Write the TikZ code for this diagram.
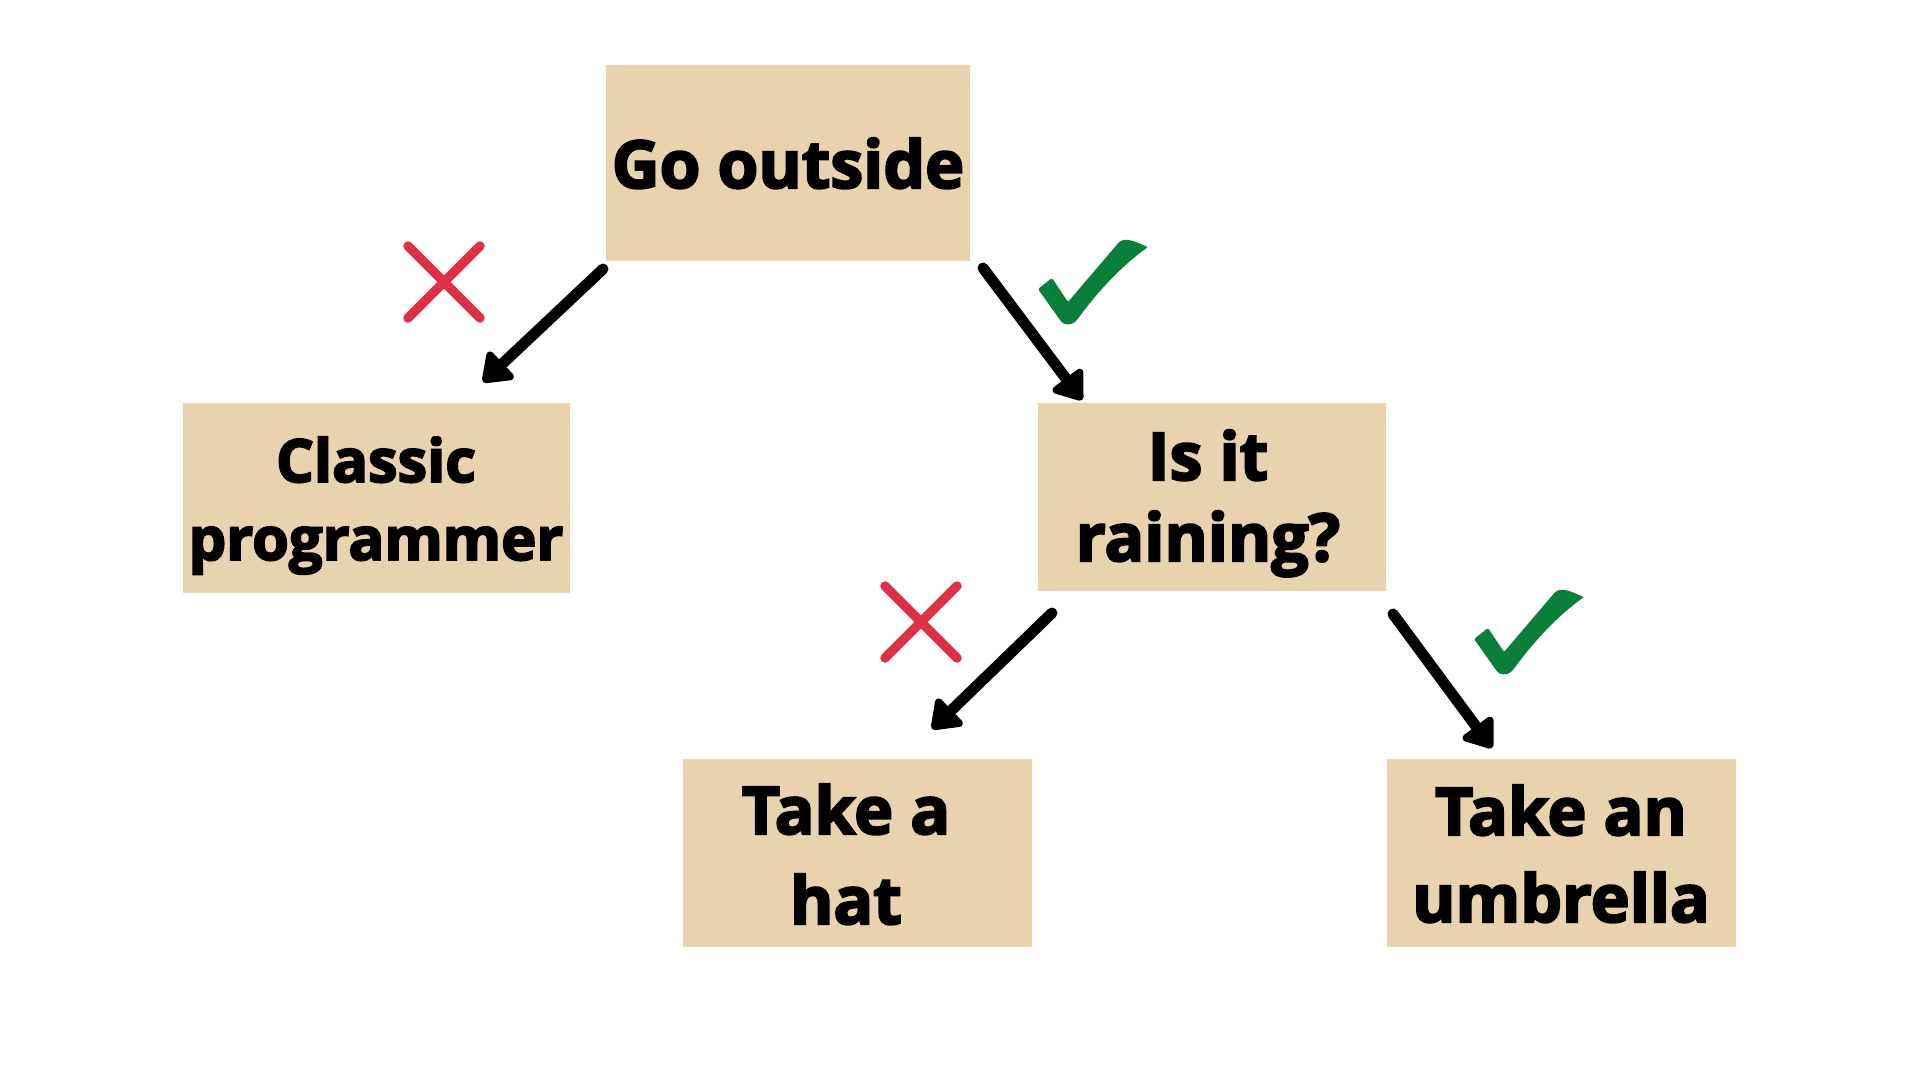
\documentclass[tikz,border=0pt]{standalone}
\usepackage{fontspec}
\usetikzlibrary{arrows.meta,calc}
\IfFontExistsTF{Open Sans ExtraBold}
  {\newfontfamily\boxfont{Open Sans ExtraBold}\newcommand\boxweight{}}
  {\newfontfamily\boxfont{Open Sans}[BoldFeatures={FakeBold=3.2}]\newcommand\boxweight{\bfseries}}
\definecolor{boxtan}{HTML}{E9D3AE}
\definecolor{xred}{HTML}{DE3047}
\definecolor{ckgreen}{HTML}{0A7F3A}
\tikzset{
  box/.style={fill=boxtan, draw=none, inner sep=0pt, outer sep=0pt},
  lbl/.style={anchor=base, inner sep=0pt, font=\boxfont\boxweight\fontsize{66}{80}\selectfont, text=black},
  lblsmall/.style={lbl, font=\boxfont\boxweight\fontsize{59.5}{72}\selectfont},
  arr/.style={line width=11pt, line cap=round, -{Triangle[length=30pt, width=42pt, round]}},
  crossmk/.pic={
    \draw[xred, line width=9.5pt, line cap=round] (-36,-36) -- (36,36) (-36,36) -- (36,-36);
  },
  checkmk/.pic={
    \fill[ckgreen, rounded corners=2pt] (0,0) -- (14,-11) -- (30,13) -- (82,-48)
      .. controls (92,-51) and (102,-45) .. (110,-42)
      .. controls (82,-22) and (57,6) .. (39,31)
      .. controls (33,37) and (26,36) .. (22,31) -- cycle;
  }
}
\begin{document}
\begin{tikzpicture}[x=1pt, y=-1pt]
\useasboundingbox (0,0) rectangle (1920,1080);
% boxes
\node[box, minimum width=364pt, minimum height=196pt] (go) at (788,163) {};
\node[box, minimum width=387pt, minimum height=190pt] (classic) at (376.5,498) {};
\node[box, minimum width=348pt, minimum height=188pt] (rain) at (1212,497) {};
\node[box, minimum width=349pt, minimum height=188pt] (hat) at (857.5,853) {};
\node[box, minimum width=349pt, minimum height=188pt] (umb) at (1561.5,853) {};
% texts
\node[lbl] (goT) at (788,188) {Go outside};
\node[lblsmall] (classicA) at (376,482) {Classic};
\node[lblsmall] (classicB) at (376,560) {programmer};
\node[lbl] (rainA) at (1208,480) {Is it};
\node[lbl] (rainB) at (1208,561) {raining?};
\node[lbl] (hatA) at (846,834) {Take a};
\node[lbl] (hatB) at (846,924) {hat};
\node[lbl] (umbA) at (1561,835) {Take an};
\node[lbl] (umbB) at (1561,922) {umbrella};
% arrow end points
\coordinate (t1) at ($(go.south west)+(-3,8)$);
\coordinate (h1) at (483,382);
\coordinate (t2) at ($(go.south east)+(13,7)$);
\coordinate (h2) at (1082,400);
\coordinate (t3) at ($(rain.south west)+(14,22)$);
\coordinate (h3) at (932,729);
\coordinate (t4) at ($(rain.south east)+(7,23)$);
\coordinate (h4) at (1492,748);
\draw[arr] (t1) -- (h1);
\draw[arr] (t2) -- (h2);
\draw[arr] (t3) -- (h3);
\draw[arr] (t4) -- (h4);
% marks
\pic at (444,282) {crossmk};
\pic at (921,622) {crossmk};
\pic at (1038,289) {checkmk};
\pic at (1474,639) {checkmk};
\end{tikzpicture}
\end{document}
